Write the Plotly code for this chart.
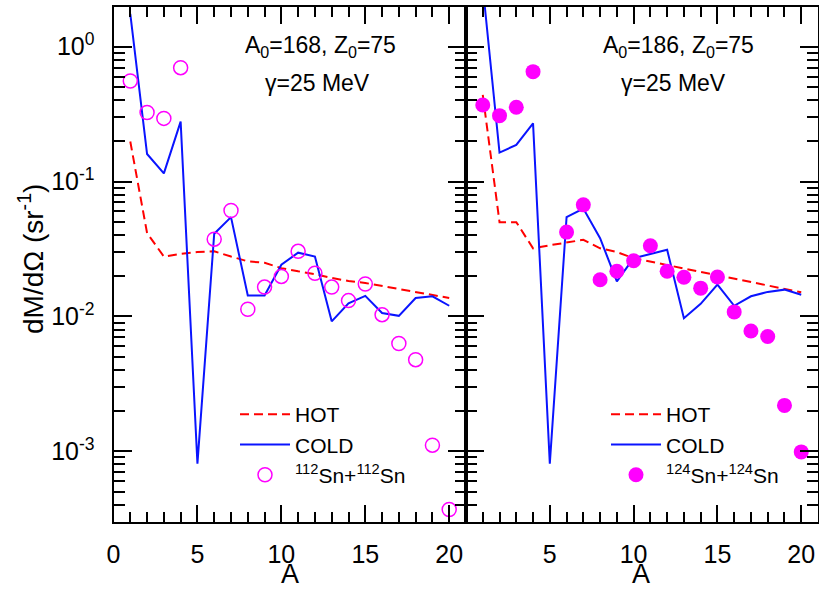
import plotly.graph_objects as go

# ---------------- data ----------------
A = list(range(1, 21))
A_data = [1, 2, 3, 4, 6, 7, 8, 9, 10, 11, 12, 13, 14, 15, 16, 17, 18, 19, 20]

hot_168 = [0.198, 0.0415, 0.0278, 0.0291, 0.0300, 0.0304, 0.0278, 0.0256, 0.0250, 0.0228,
           0.0216, 0.0206, 0.0193, 0.0183, 0.0177, 0.0168, 0.0160, 0.0153, 0.0145, 0.0137]
cold_168 = [1.75, 0.160, 0.115, 0.278, 0.00081, 0.041, 0.0545, 0.0143, 0.0143, 0.0242,
            0.0297, 0.0278, 0.0092, 0.0125, 0.0142, 0.0106, 0.0101, 0.0137, 0.0141, 0.0120]
exp_112 = [0.557, 0.325, 0.294, 0.699, 0.0374, 0.061, 0.0113, 0.0165, 0.0198, 0.0304,
           0.0209, 0.0165, 0.0131, 0.0174, 0.0103, 0.0063, 0.00478, 0.00111, 0.00037]

hot_186 = [0.44, 0.050, 0.050, 0.032, 0.0337, 0.0353, 0.037, 0.032, 0.030, 0.027,
           0.0255, 0.024, 0.0226, 0.0214, 0.0202, 0.019, 0.018, 0.0169, 0.016, 0.0151]
cold_186 = [2.8, 0.164, 0.187, 0.27, 0.00081, 0.0545, 0.063, 0.038, 0.0182, 0.027,
            0.029, 0.0312, 0.0097, 0.0124, 0.0172, 0.0120, 0.0141, 0.0152, 0.0158, 0.0145]
exp_124 = [0.370, 0.308, 0.356, 0.653, 0.0422, 0.0672, 0.0187, 0.0216, 0.0259, 0.0334,
           0.0216, 0.0195, 0.0162, 0.0196, 0.0108, 0.0078, 0.0071, 0.00219, 0.00099]

y_major = [1e-3, 1e-2, 1e-1, 1e0]
y_major_text = ["10<sup>-3</sup>", "10<sup>-2</sup>", "10<sup>-1</sup>", "10<sup>0</sup>"]
y_minor = [k * 10.0 ** e for e in range(-4, 1) for k in range(2, 10)]
x_ticks_left = [0, 5, 10, 15, 20]
x_ticks_right = [5, 10, 15, 20]

FONT = "Liberation Sans, Arial, sans-serif"
W, H = 819, 590
RED = "#ff0000"
BLUE = "#0a14ff"
MAG = "#ff00ff"

fig = go.Figure()

# left panel
fig.add_trace(go.Scatter(x=A, y=hot_168, mode="lines", name="HOT",
                         line=dict(color=RED, width=2, dash="9px,5px"),
                         xaxis="x", yaxis="y", legend="legend"))
fig.add_trace(go.Scatter(x=A, y=cold_168, mode="lines", name="COLD",
                         line=dict(color=BLUE, width=2),
                         xaxis="x", yaxis="y", legend="legend"))
fig.add_trace(go.Scatter(x=A_data, y=exp_112, mode="markers",
                         name="<sup>112</sup>Sn+<sup>112</sup>Sn",
                         marker=dict(symbol="circle-open", size=14, color=MAG,
                                     line=dict(width=1.5, color=MAG)),
                         xaxis="x", yaxis="y", legend="legend"))
# right panel
fig.add_trace(go.Scatter(x=A, y=hot_186, mode="lines", name="HOT",
                         line=dict(color=RED, width=2, dash="9px,5px"),
                         xaxis="x2", yaxis="y2", legend="legend2"))
fig.add_trace(go.Scatter(x=A, y=cold_186, mode="lines", name="COLD",
                         line=dict(color=BLUE, width=2),
                         xaxis="x2", yaxis="y2", legend="legend2"))
fig.add_trace(go.Scatter(x=A_data, y=exp_124, mode="markers",
                         name="<sup>124</sup>Sn+<sup>124</sup>Sn",
                         marker=dict(symbol="circle", size=15, color=MAG),
                         xaxis="x2", yaxis="y2", legend="legend2"))

x_dom1 = [113.5 / W, 466 / W]
x_dom2 = [466 / W, 818 / W]
y_dom = [1 - 521.7 / H, 1 - 6.5 / H]
y_range = [-3.522, 0.298]

common_x = dict(range=[0, 21], showgrid=False, zeroline=False, automargin=False,
                showline=True, linecolor="black", linewidth=2, mirror="allticks",
                ticks="inside", ticklen=17, tickwidth=1.5, tickcolor="black",
                tickfont=dict(family=FONT, size=25, color="black"),
                ticklabelstandoff=9,
                minor=dict(ticks="inside", ticklen=10, tickwidth=1.5, tickcolor="black",
                           dtick=1, tick0=0, showgrid=False))
common_y = dict(type="log", range=y_range, showgrid=False, zeroline=False, automargin=False,
                showline=True, linecolor="black", linewidth=2, mirror="allticks",
                ticks="inside", ticklen=18, tickwidth=1.5, tickcolor="black",
                tickmode="array", tickvals=y_major,
                minor=dict(ticks="inside", ticklen=11, tickwidth=1.5, tickcolor="black",
                           tickmode="array", tickvals=y_minor, showgrid=False))

legend_common = dict(font=dict(family=FONT, size=21, color="black"),
                     bgcolor="rgba(0,0,0,0)", borderwidth=0,
                     xanchor="left", yanchor="top", itemwidth=50,
                     tracegroupgap=0, traceorder="normal")

fig.update_layout(
    width=W, height=H,
    margin=dict(l=0, r=0, t=0, b=0, autoexpand=False),
    paper_bgcolor="white", plot_bgcolor="white",
    font=dict(family=FONT, color="black"),
    xaxis=dict(domain=x_dom1, anchor="y", tickmode="array", tickvals=x_ticks_left,
               **common_x),
    xaxis2=dict(domain=x_dom2, anchor="y2", tickmode="array", tickvals=x_ticks_right,
                **common_x),
    yaxis=dict(domain=y_dom, anchor="x", ticktext=y_major_text,
               tickfont=dict(family=FONT, size=25, color="black"),
               ticklabelstandoff=12,
               **common_y),
    yaxis2=dict(domain=y_dom, anchor="x2", showticklabels=False, **common_y),
    legend=dict(x=235 / W, y=1 - 394 / H, **legend_common),
    legend2=dict(x=606 / W, y=1 - 394 / H, **legend_common),
    showlegend=True,
)

annotations = [
    ("A<sub>0</sub>=168, Z<sub>0</sub>=75", 320, 46.7, 23, 0, "middle"),
    ("γ=25 MeV", 317, 82.7, 23, 0, "middle"),
    ("A<sub>0</sub>=186, Z<sub>0</sub>=75", 678, 46.7, 23, 0, "middle"),
    ("γ=25 MeV", 673, 82.7, 23, 0, "middle"),
    ("dM/dΩ (sr<sup>-1</sup>)", 31, 259, 28, -90, "middle"),
    ("A", 289.7, 590, 27, 0, "bottom"),
    ("A", 641, 590, 27, 0, "bottom"),
]
for text, px, py, fs, ang, ya in annotations:
    fig.add_annotation(text=text, x=px / W, y=1 - py / H, xref="paper", yref="paper",
                       xanchor="center", yanchor=ya, showarrow=False, borderpad=0,
                       textangle=ang, font=dict(family=FONT, size=fs, color="black"))

fig.write_html("out.html")
